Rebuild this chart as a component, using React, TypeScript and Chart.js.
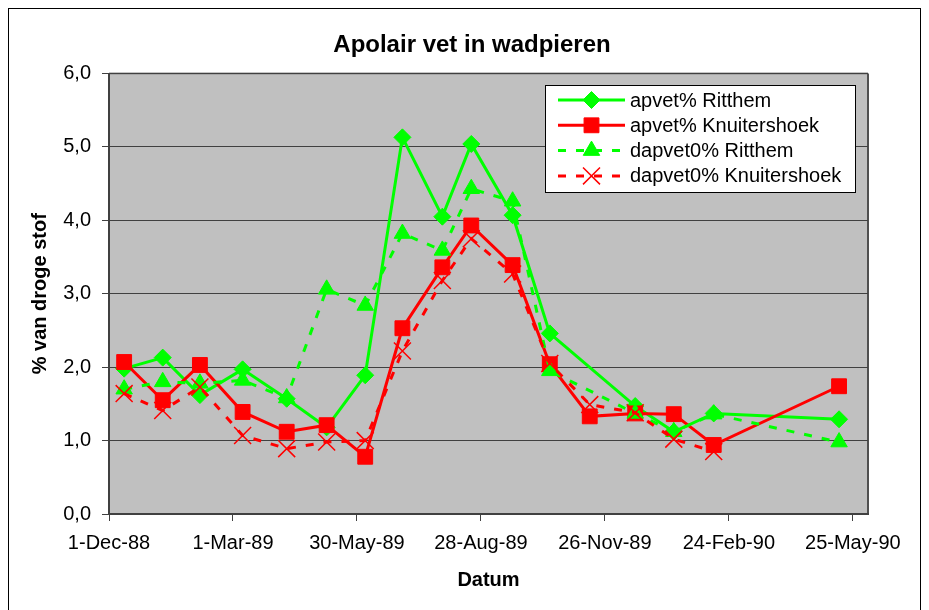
import React, { useEffect, useRef } from "react";
import { Chart, registerables } from "chart.js";

Chart.register(...registerables);

const FONT = "'Liberation Sans', Arial, Helvetica, sans-serif";

// ---- data ----
const titleText = "Apolair vet in wadpieren";
const xTitle = "Datum";
const yTitle = "% van droge stof";

const axisStart = "1988-12-01";
const axisEnd = "1990-06-05";
const tickDates = ["1988-12-01", "1989-03-01", "1989-05-30", "1989-08-28", "1989-11-26", "1990-02-24", "1990-05-25"];
const tickLabels = ["1-Dec-88", "1-Mar-89", "30-May-89", "28-Aug-89", "26-Nov-89", "24-Feb-90", "25-May-90"];
const yTicks = [0, 1, 2, 3, 4, 5, 6];

const sampleDates = [
  "1988-12-12", "1989-01-09", "1989-02-05", "1989-03-08", "1989-04-09", "1989-05-08",
  "1989-06-05", "1989-07-02", "1989-07-31", "1989-08-21", "1989-09-20", "1989-10-17",
  "1989-11-15", "1989-12-18", "1990-01-15", "1990-02-13", "1990-05-15",
];

const apvetRitthem = [1.98, 2.13, 1.62, 1.97, 1.57, 1.18, 1.89, 5.13, 4.05, 5.04, 4.07, 2.46, null, 1.47, 1.12, 1.37, 1.29];
const apvetKnuitershoek = [2.07, 1.55, 2.03, 1.39, 1.12, 1.21, 0.78, 2.53, 3.36, 3.93, 3.39, 2.04, 1.33, 1.37, 1.36, 0.94, 1.74];
const dapvetRitthem = [1.7, 1.8, 1.78, 1.82, 1.58, 3.06, 2.84, 3.82, 3.59, 4.43, 4.26, 1.95, null, 1.37, 1.12, 1.36, 0.98];
const dapvetKnuitershoek = [1.64, 1.41, 1.73, 1.07, 0.89, 0.98, 1.0, 2.22, 3.18, 3.75, 3.27, 2.05, 1.49, 1.38, 1.02, 0.85, null];

const seriesNames = ["apvet% Ritthem", "apvet% Knuitershoek", "dapvet0% Ritthem", "dapvet0% Knuitershoek"];

// ---- helpers ----
const dayNum = (s: string) => {
  const [y, m, d] = s.split("-").map(Number);
  const [y0, m0, d0] = axisStart.split("-").map(Number);
  return Math.round((Date.UTC(y, m - 1, d) - Date.UTC(y0, m0 - 1, d0)) / 86400000);
};
const tickDays = tickDates.map(dayNum);
const toPoints = (vals: (number | null)[]) =>
  sampleDates
    .map((d, i) => ({ x: dayNum(d), y: vals[i] }))
    .filter((p) => p.y !== null && p.y !== undefined) as { x: number; y: number }[];

const GREEN = "#00FF00";
const RED = "#FF0000";
const DASH = [8, 10];

type Style = { color: string; dash: number[]; marker: string; radius: number; bw: number };
const styles: Style[] = [
  { color: GREEN, dash: [], marker: "rectRot", radius: 8.5, bw: 1 },
  { color: RED, dash: [], marker: "rect", radius: 10.5, bw: 1 },
  { color: GREEN, dash: DASH, marker: "triangle", radius: 9.5, bw: 1 },
  { color: RED, dash: DASH, marker: "crossRot", radius: 12, bw: 1.5 },
];

function drawMarker(ctx: CanvasRenderingContext2D, st: Style, x: number, y: number) {
  ctx.save();
  ctx.setLineDash([]);
  ctx.fillStyle = st.color;
  ctx.strokeStyle = st.color;
  ctx.lineWidth = st.bw;
  const r = st.radius;
  ctx.beginPath();
  if (st.marker === "rectRot") {
    ctx.moveTo(x - r, y);
    ctx.lineTo(x, y - r);
    ctx.lineTo(x + r, y);
    ctx.lineTo(x, y + r);
    ctx.closePath();
    ctx.fill();
    ctx.stroke();
  } else if (st.marker === "rect") {
    const s = Math.SQRT1_2 * r;
    ctx.rect(x - s, y - s, 2 * s, 2 * s);
    ctx.fill();
    ctx.stroke();
  } else if (st.marker === "triangle") {
    ctx.moveTo(x, y - r);
    ctx.lineTo(x + Math.sin((2 * Math.PI) / 3) * r, y + r / 2);
    ctx.lineTo(x - Math.sin((2 * Math.PI) / 3) * r, y + r / 2);
    ctx.closePath();
    ctx.fill();
    ctx.stroke();
  } else {
    const s = Math.SQRT1_2 * r;
    ctx.moveTo(x - s, y - s);
    ctx.lineTo(x + s, y + s);
    ctx.moveTo(x + s, y - s);
    ctx.lineTo(x - s, y + s);
    ctx.stroke();
  }
  ctx.restore();
}

const framePlugin = {
  id: "frame",
  beforeDraw(chart: any) {
    const { ctx, chartArea: a } = chart;
    ctx.save();
    ctx.fillStyle = "#FFFFFF";
    ctx.fillRect(0, 0, chart.width, chart.height);
    ctx.strokeStyle = "#000000";
    ctx.lineWidth = 1;
    ctx.strokeRect(8.5, 8.5, 912, chart.height + 20);
    ctx.fillStyle = "#C0C0C0";
    ctx.fillRect(a.left, a.top, a.right - a.left, a.bottom - a.top);
    ctx.lineWidth = 2;
    ctx.strokeStyle = "#8C8C8C";
    ctx.beginPath();
    ctx.moveTo(a.left, a.top);
    ctx.lineTo(a.right, a.top);
    ctx.stroke();
    ctx.strokeStyle = "#505050";
    ctx.beginPath();
    ctx.moveTo(a.right, a.top);
    ctx.lineTo(a.right, a.bottom);
    ctx.stroke();
    ctx.restore();
  },
};

const legendPlugin = {
  id: "boxLegend",
  afterDraw(chart: any) {
    const { ctx } = chart;
    const bx = 545.5, by = 85.5, bw = 310, bh = 107;
    ctx.save();
    ctx.fillStyle = "#FFFFFF";
    ctx.fillRect(bx, by, bw, bh);
    ctx.strokeStyle = "#000000";
    ctx.lineWidth = 1;
    ctx.strokeRect(bx, by, bw, bh);
    ctx.font = `20px ${FONT}`;
    ctx.textBaseline = "middle";
    ctx.textAlign = "left";
    seriesNames.forEach((name, i) => {
      const st = styles[i];
      const y = 100 + i * 25.3;
      ctx.save();
      ctx.strokeStyle = st.color;
      ctx.lineWidth = 3;
      ctx.setLineDash(st.dash);
      ctx.beginPath();
      ctx.moveTo(558, y);
      ctx.lineTo(625, y);
      ctx.stroke();
      ctx.restore();
      drawMarker(ctx, st, 591.5, y);
      ctx.fillStyle = "#000000";
      ctx.fillText(name, 630, y + 1);
    });
    ctx.restore();
  },
};

export default function App() {
  const ref = useRef<HTMLCanvasElement | null>(null);

  useEffect(() => {
    if (!ref.current) return;
    const all = [apvetRitthem, apvetKnuitershoek, dapvetRitthem, dapvetKnuitershoek];
    const datasets = all.map((vals, i) => {
      const st = styles[i];
      return {
        label: seriesNames[i],
        data: toPoints(vals),
        borderColor: st.color,
        backgroundColor: st.color,
        borderWidth: 3,
        borderDash: st.dash,
        pointStyle: st.marker,
        pointRadius: st.radius,
        pointHoverRadius: st.radius,
        pointBorderWidth: st.bw,
        pointBorderColor: st.color,
        pointBackgroundColor: st.color,
        tension: 0,
        fill: false,
        showLine: true,
        order: 4 - i,
      };
    });

    const chart = new Chart(ref.current, {
      type: "line",
      data: { datasets: datasets as any },
      plugins: [framePlugin, legendPlugin],
      options: {
        responsive: false,
        animation: false,
        devicePixelRatio: 1,
        layout: { padding: { left: 15, right: 0, top: 0, bottom: 0 } },
        plugins: {
          legend: { display: false },
          tooltip: { enabled: false },
          title: {
            display: true,
            text: titleText,
            color: "#000000",
            font: { family: FONT, size: 24, weight: "bold" },
            padding: { top: 30.6, bottom: 14.1 },
          },
        },
        scales: {
          x: {
            type: "linear",
            min: 0,
            max: dayNum(axisEnd),
            afterBuildTicks: (s: any) => {
              s.ticks = tickDays.map((v) => ({ value: v }));
            },
            afterFit: (s: any) => {
              s.height = 96;
            },
            ticks: {
              autoSkip: false,
              maxRotation: 0,
              padding: 10,
              color: "#000000",
              font: { family: FONT, size: 20 },
              callback: (v: any) => {
                const i = tickDays.indexOf(Number(v));
                return i >= 0 ? tickLabels[i] : "";
              },
            },
            grid: {
              drawOnChartArea: false,
              drawTicks: true,
              tickLength: 7,
              color: "#404040",
              lineWidth: 1,
            },
            border: { display: true, color: "#404040", width: 2 },
            title: {
              display: true,
              text: xTitle,
              color: "#000000",
              font: { family: FONT, size: 20, weight: "bold" },
              padding: { top: 0, bottom: 18 },
            },
          },
          y: {
            type: "linear",
            position: "left",
            min: yTicks[0],
            max: yTicks[yTicks.length - 1],
            afterBuildTicks: (s: any) => {
              s.ticks = yTicks.map((v) => ({ value: v }));
            },
            afterFit: (s: any) => {
              s.width = 94;
            },
            ticks: {
              padding: 11,
              color: "#000000",
              font: { family: FONT, size: 20 },
              callback: (v: any) => Number(v).toFixed(1).replace(".", ","),
            },
            grid: {
              drawOnChartArea: true,
              drawTicks: true,
              tickLength: 7,
              color: "#404040",
              lineWidth: 1,
            },
            border: { display: true, color: "#404040", width: 2 },
            title: {
              display: true,
              text: yTitle,
              color: "#000000",
              font: { family: FONT, size: 20, weight: "bold" },
              padding: { top: 13, bottom: 0 },
            },
          },
          yRight: {
            type: "linear",
            position: "right",
            display: true,
            min: 0,
            max: 6,
            afterFit: (s: any) => {
              s.width = 61;
            },
            ticks: { display: false },
            grid: { display: false, drawTicks: false },
            border: { display: false },
          },
        },
      } as any,
    });
    return () => chart.destroy();
  }, []);

  return (
    <div style={{ position: "absolute", left: 0, top: 0, width: 929, height: 610, background: "#fff" }}>
      <canvas ref={ref} width={929} height={610} style={{ display: "block", width: 929, height: 610 }} />
    </div>
  );
}
